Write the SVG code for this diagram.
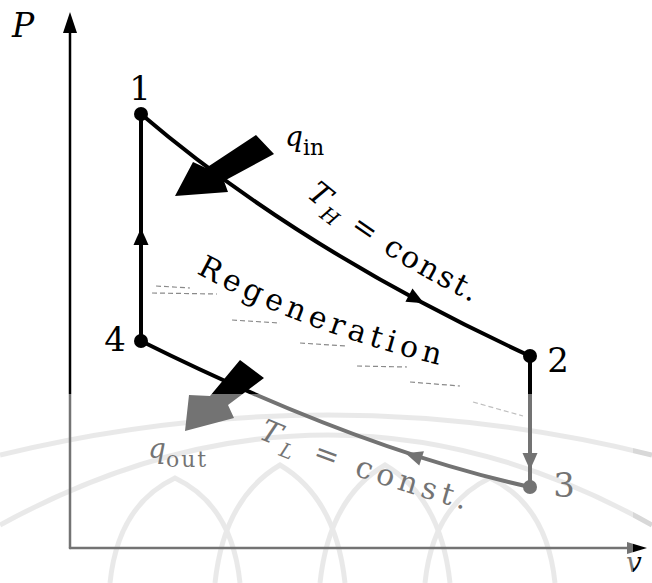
<svg xmlns="http://www.w3.org/2000/svg" xmlns:xlink="http://www.w3.org/1999/xlink" width="652" height="583" viewBox="0 0 652 583">
<style>
.ln{fill:none;stroke:#000;stroke-linecap:round}
.ax{stroke-width:2.5}
.pr{stroke-width:4}
.dot{fill:#000}
.t{font-family:"DejaVu Serif","Liberation Serif",serif;fill:#000}
.it{font-style:italic}
.num{font-size:34px}
.wm{fill:none;stroke:#d8d8d8;stroke-width:5}
.sq{fill:none;stroke:#8a8a8a;stroke-width:1.2;stroke-dasharray:5 3}
</style>
<defs>
<path id="ah" d="M9,0 L-8,-7.5 L-8,7.5 Z" fill="#000"/>
<path id="pathReg" d="M196,273 Q307,334 452,368"/>
<path id="pathTH" d="M306,196 Q377,256 482,307"/>
<path id="pathTL" d="M258,438 Q350,478 480,514"/>
</defs>
<rect width="652" height="583" fill="#fff"/>

<g id="watermark">
<path class="wm" d="M0,455 Q330,375 652,455" stroke-width="6"/>
<path class="wm" d="M0,525 Q330,345 652,525"/>
<path class="wm" d="M110,583 Q118,505 175,478 Q232,505 240,583"/>
<path class="wm" d="M215,583 Q224,498 280,465 Q336,498 345,583"/>
<path class="wm" d="M320,583 Q329,498 385,465 Q441,498 450,583"/>
<path class="wm" d="M425,583 Q433,505 490,478 Q547,505 555,583"/>
</g>

<g id="axes">
<line class="ln ax" x1="70" y1="548" x2="70" y2="28"/>
<path d="M70,12 L77,33 L63,33 Z" fill="#000"/>
<line class="ln ax" x1="70" y1="548" x2="632" y2="548"/>
<path d="M647,548 L627,542 L627,554 Z" fill="#000"/>
<text class="t it" x="12" y="37" font-size="33">P</text>
<text class="t it" x="626" y="572" font-size="28">v</text>
</g>

<g id="connectors">
<path id="p12" class="ln pr" d="M141,114 Q300,250 530,356"/>
<line id="p23" class="ln pr" x1="530" y1="356" x2="530" y2="487"/>
<path id="p34" class="ln pr" d="M530,487 Q358,449 141,341"/>
<line id="p41" class="ln pr" x1="141" y1="341" x2="141" y2="114"/>
<use href="#ah" transform="translate(141,237) rotate(-90)"/>
<use href="#ah" transform="translate(416,299) rotate(28)"/>
<use href="#ah" transform="translate(530,461) rotate(90)"/>
<use href="#ah" transform="translate(414,456) rotate(198)"/>
</g>

<g id="node1">
<circle class="dot" cx="141" cy="114" r="7"/>
<text class="t num" x="140" y="100" text-anchor="middle">1</text>
</g>
<g id="node2">
<circle class="dot" cx="530" cy="356" r="7"/>
<text class="t num" x="558" y="372" text-anchor="middle">2</text>
</g>
<g id="node3">
<circle class="dot" cx="530" cy="487" r="7"/>
<text class="t num" x="564" y="497" text-anchor="middle">3</text>
</g>
<g id="node4">
<circle class="dot" cx="141" cy="341" r="7"/>
<text class="t num" x="115" y="351" text-anchor="middle">4</text>
</g>

<g id="qin">
<path d="M175,196 L193,162 L206,168 L256,135 L274,154 L224,181 L228,192 Z" fill="#000"/>
<text class="t" x="285" y="146"><tspan class="it" font-size="28">q</tspan><tspan font-size="22" dy="9">in</tspan></text>
</g>

<g id="qout">
<path d="M185,431 L189,395 L210,396 L240,360 L264,378 L228,405 L234,418 Z" fill="#000"/>
<text class="t" x="148" y="458"><tspan class="it" font-size="28">q</tspan><tspan font-size="22" dy="9" letter-spacing="2">out</tspan></text>
</g>

<g id="regeneration">
<path class="sq" d="M152,293 L217,294 M156,286 L190,288 M232,320 L280,323 M300,343 L347,346 M357,366 L407,367 M410,382 L460,386 M473,402 L523,416"/>
<text class="t" font-size="30" letter-spacing="5"><textPath href="#pathReg">Regeneration</textPath></text>
</g>

<g id="labelTH">
<text class="t" font-size="30" letter-spacing="2.5"><textPath href="#pathTH"><tspan class="it">T</tspan><tspan class="it" font-size="20" dy="8">H</tspan><tspan dy="-8"> = const.</tspan></textPath></text>
</g>

<g id="labelTL">
<text class="t" font-size="30" letter-spacing="5"><textPath href="#pathTL"><tspan class="it">T</tspan><tspan class="it" font-size="20" dy="8">L</tspan><tspan dy="-8"> = const.</tspan></textPath></text>
</g>

<rect id="fade" x="0" y="394" width="633" height="189" fill="#fff" fill-opacity="0.45"/>
</svg>
